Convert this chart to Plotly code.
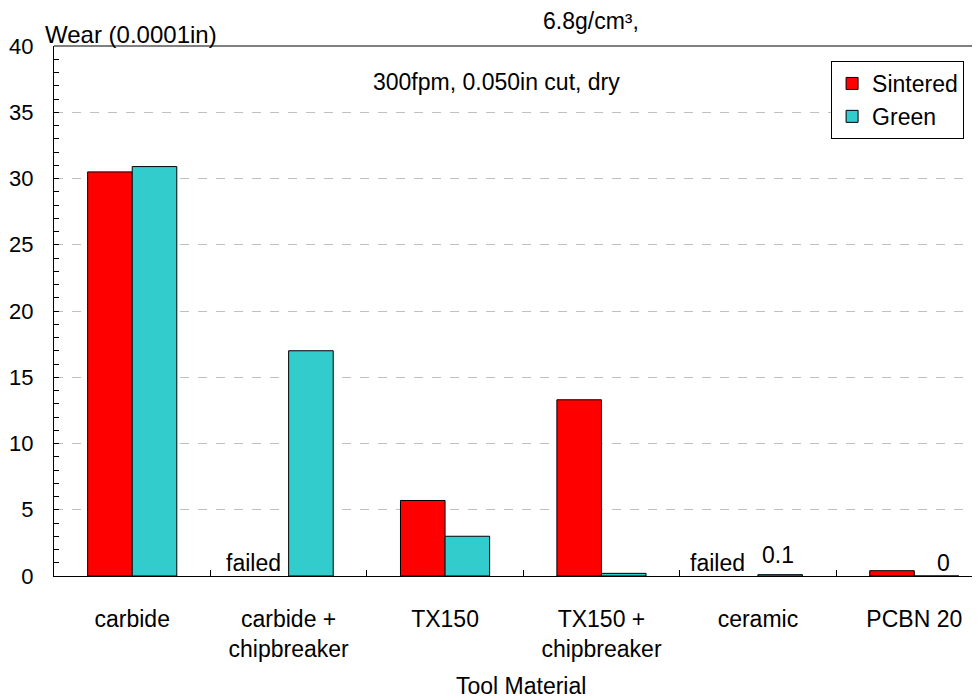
import plotly.graph_objects as go

categories = ["carbide", "carbide +<br>chipbreaker", "TX150", "TX150 +<br>chipbreaker", "ceramic", "PCBN 20"]
sintered = [30.5, None, 5.7, 13.3, None, 0.4]
green = [30.9, 17.0, 3.0, 0.2, 0.1, 0.0]
y_ticks = [0, 5, 10, 15, 20, 25, 30, 35, 40]

FONT = "Liberation Sans, Arial, sans-serif"
FS = 23

# screen geometry helpers (page body has 8px margin)
PX0, PX1, PY0, PY1 = 53.5, 980.0, 46.0, 576.0
def px(x):
    return (x - PX0) / (PX1 - PX0)
def py(y):
    return (PY1 - y) / (PY1 - PY0)

fig = go.Figure()
fig.add_trace(go.Bar(x=categories, y=sintered, name="Sintered",
                     marker=dict(color="#ff0000", line=dict(color="#000000", width=1))))
fig.add_trace(go.Bar(x=categories, y=green, name="Green",
                     marker=dict(color="#33cccc", line=dict(color="#000000", width=1))))

anns = [
    dict(x=categories[1], y=0, text="failed", xanchor="right", xshift=-6, yshift=13),
    dict(x=categories[4], y=0, text="failed", xanchor="right", xshift=-11, yshift=13),
    dict(x=categories[4], y=0.1, text="0.1", xanchor="center", xshift=20, yshift=20),
    dict(x=categories[5], y=0, text="0", xanchor="center", xshift=29, yshift=13),
]
annotations = []
for a in anns:
    annotations.append(dict(xref="x", yref="y", showarrow=False, yanchor="middle",
                            font=dict(size=FS, color="#000000", family=FONT), **a))
annotations += [
    dict(xref="paper", yref="paper", x=px(591), y=py(21), text="6.8g/cm³,",
         showarrow=False, font=dict(size=FS, color="#000"), xanchor="center", yanchor="middle"),
    dict(xref="paper", yref="paper", x=px(496), y=py(82), text="300fpm, 0.050in cut, dry",
         showarrow=False, font=dict(size=FS, color="#000"), xanchor="center", yanchor="middle"),
    dict(xref="paper", yref="paper", x=px(42), y=py(34), text="Wear (0.0001in)",
         showarrow=False, font=dict(size=FS + 1, color="#000"), xanchor="left", yanchor="middle"),
    dict(xref="paper", yref="paper", x=px(521), y=py(686), text="Tool Material",
         showarrow=False, font=dict(size=FS, color="#000"), xanchor="center", yanchor="middle"),
]

fig.update_layout(
    width=972, height=692,
    margin=dict(l=45.5, r=0, t=38, b=124, autoexpand=False),
    paper_bgcolor="white", plot_bgcolor="white",
    font=dict(family=FONT, color="#000000", size=FS),
    barmode="group", bargap=0.43, bargroupgap=0,
    showlegend=True,
    legend=dict(x=px(831), y=py(61), xanchor="left", yanchor="top",
                bordercolor="#000000", borderwidth=1, bgcolor="white",
                font=dict(size=FS), tracegroupgap=0, itemwidth=30),
    annotations=annotations,
    xaxis=dict(range=[-0.5, 5.42], showline=True, linecolor="#000", linewidth=1,
               ticks="inside", tickson="boundaries", ticklen=6, tickcolor="#000",
               showgrid=False, tickfont=dict(size=FS), ticklabelstandoff=22),
    yaxis=dict(range=[0, 40], tickvals=y_ticks, showline=True, linecolor="#000", linewidth=1,
               ticks="inside", ticklen=5, tickcolor="#000", tickfont=dict(size=FS - 1),
               ticklabelstandoff=15,
               showgrid=True, gridcolor="#c0c0c0", griddash="dash", gridwidth=1,
               zeroline=False,
               minor=dict(dtick=1, ticks="inside", ticklen=5, tickcolor="#000", showgrid=False)),
)
fig.add_shape(type="line", xref="paper", yref="paper", x0=0, x1=1, y0=1, y1=1,
              line=dict(color="#000", width=1))

fig.write_html("out.html")
